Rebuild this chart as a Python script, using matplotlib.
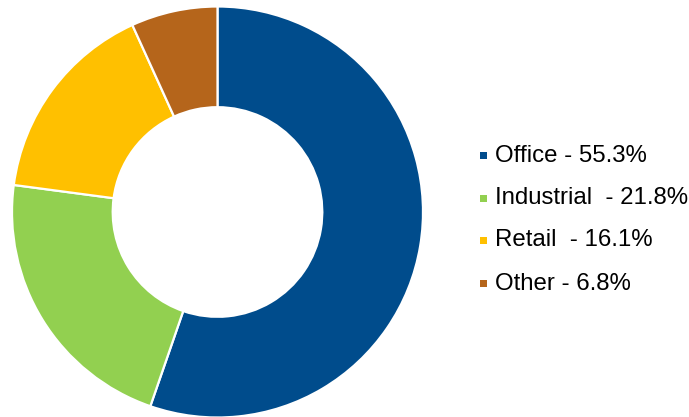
import matplotlib
matplotlib.use("Agg")
import matplotlib.pyplot as plt
from matplotlib.patches import Rectangle

# data
labels = ["Office - 55.3%", "Industrial  - 21.8%", "Retail  - 16.1%", "Other - 6.8%"]
shares = [55.3, 21.8, 16.1, 6.8]
colors = ["#004C8C", "#92D050", "#FFC000", "#B5651B"]

plt.rcParams['font.family'] = ['Liberation Sans', 'DejaVu Sans']

W, H = 689, 417
fig = plt.figure(figsize=(W / 100, H / 100), dpi=100)

# donut: center (217.5, 212) px from top, outer radius 205.5 px
cx, cy, r = 217.5, 212, 205.5
ax = fig.add_axes([(cx - r) / W, (H - cy - r) / H, 2 * r / W, 2 * r / H])
ax.pie(shares, colors=colors, startangle=90, counterclock=False, radius=1,
       wedgeprops=dict(width=0.49, edgecolor="white", linewidth=1.6))
ax.set_xlim(-1, 1)
ax.set_ylim(-1, 1)
ax.set_aspect("equal")
ax.axis("off")

# legend drawn by hand
row_y = [155.5, 198, 240.5, 283.5]
for lab, col, y in zip(labels, colors, row_y):
    fig.patches.append(Rectangle((480 / W, (H - y - 3.5) / H), 7 / W, 7 / H,
                                 transform=fig.transFigure, facecolor=col,
                                 edgecolor="none"))
    fig.text(495 / W, (H - y) / H, lab, fontsize=17.3, va="center", ha="left",
             color="black")

fig.savefig("out.png", dpi=100)
